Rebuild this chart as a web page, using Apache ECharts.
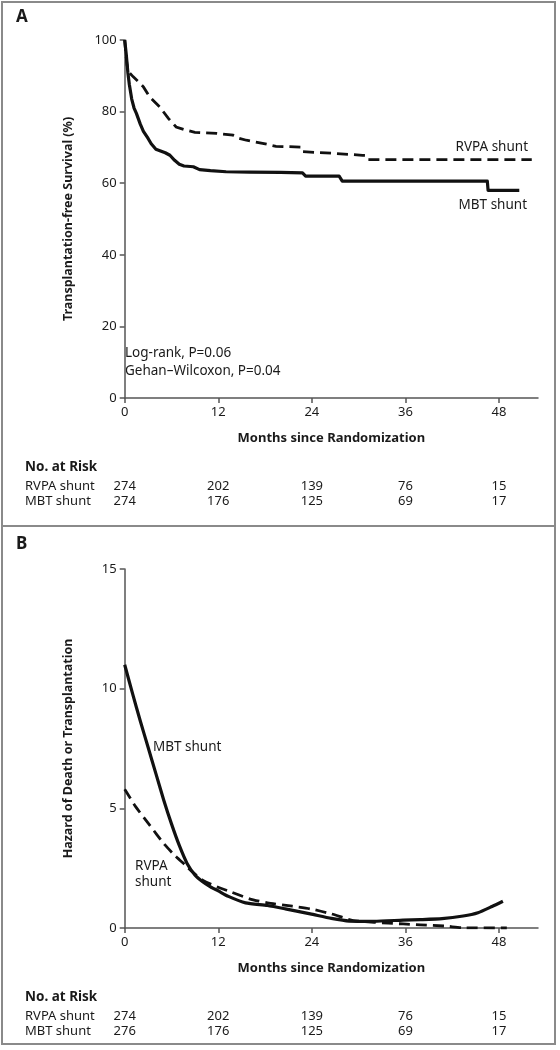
<!DOCTYPE html>
<html><head><meta charset="utf-8">
<script src="https://cdn.jsdelivr.net/npm/echarts@6/dist/echarts.min.js"></script>
<style>html,body{margin:0;padding:0;background:#fff}#c{width:560px;height:1050px}</style>
</head><body><div id="c"></div>
<script>
// ---------- data ----------
const monthTicks = [0, 12, 24, 36, 48];
const yTicksA = [0, 20, 40, 60, 80, 100];
const yTicksB = [0, 5, 10, 15];

// Panel A: Kaplan-Meier transplantation-free survival (%), [month, value]
const kmRVPA = [[0,100],[0.15,96],[0.3,93],[0.5,91.1],[1.1,89.7],[1.8,88.3],[2.4,86.9],[3.2,84.1],[4.5,81.3],[5.6,78.1],[6.6,75.7],[7.9,74.8],[9,74.2],[11.8,73.9],[13.9,73.4],[14.6,72.6],[15.6,72],[18.2,70.9],[19.4,70.3],[22.6,70.1],[22.8,68.8],[27.1,68.3],[30.5,67.8],[30.9,67.8],[31.2,66.6],[52.2,66.6]];
const kmMBT = [[0,100],[0.2,96],[0.4,91],[0.6,87.5],[0.9,83.5],[1.2,81],[1.5,79.5],[2,76.5],[2.4,74.5],[3,72.5],[3.4,71],[4,69.5],[4.6,69],[5.2,68.5],[5.8,67.8],[6.4,66.4],[7,65.3],[7.6,64.8],[8.8,64.6],[9.6,63.8],[11,63.5],[13,63.2],[16,63.1],[20,63],[22.8,62.9],[23.2,62],[27.5,62],[27.9,60.6],[46.5,60.6],[46.6,58],[50.6,58]];

// Panel B: hazard of death or transplantation, [month, value]
const hazRVPA = [[0,5.8],[1.4,5.07],[3.2,4.3],[5,3.53],[6.4,3.04],[7.8,2.62],[8.7,2.34],[10,2.0],[11.9,1.71],[13.7,1.5],[16,1.22],[18.3,1.05],[21.5,0.91],[23.8,0.8],[26.5,0.59],[29.3,0.31],[32,0.24],[33.8,0.2],[35.7,0.17],[37.9,0.13],[41.1,0.08],[43.4,0.01],[49,0.0]];
const hazMBT = [[0,11.0],[1,9.8],[2,8.65],[3,7.55],[4,6.45],[5,5.35],[6,4.35],[7,3.45],[8,2.7],[9,2.22],[10,1.93],[11,1.72],[12,1.55],[13.3,1.32],[15.5,1.05],[18.3,0.94],[20.6,0.8],[23.8,0.59],[26.5,0.4],[28.8,0.29],[32,0.28],[35.7,0.33],[37.9,0.35],[40.7,0.39],[43.4,0.5],[45.3,0.64],[47.1,0.9],[48.5,1.12]];

// Numbers at risk
const riskMonths = [0, 12, 24, 36, 48];
const riskGroups = ['RVPA shunt', 'MBT shunt'];
const riskA_RVPA = [274, 202, 139, 76, 15];
const riskA_MBT  = [274, 176, 125, 69, 17];
const riskB_RVPA = [274, 202, 139, 76, 15];
const riskB_MBT  = [276, 176, 125, 69, 17];

// ---------- chart ----------
const FONT = '"Noto Sans", sans-serif';
const TXT = '#1a1a1a';
const AXC = '#555';
const chart = echarts.init(document.getElementById('c'), null, {renderer: 'canvas'});

function xAxisCfg(gi) {
  return {
    type: 'value', gridIndex: gi, min: 0, max: 53, interval: 12,
    axisLine: {show: true, lineStyle: {color: AXC, width: 1.5}},
    axisTick: {show: true, length: 5, customValues: monthTicks, lineStyle: {color: AXC, width: 1.5}},
    axisLabel: {customValues: monthTicks, margin: 8, fontSize: 13, color: TXT, fontFamily: FONT},
    splitLine: {show: false},
    name: 'Months since Randomization', nameLocation: 'middle', nameGap: 34,
    nameTextStyle: {fontWeight: 'bold', fontSize: 13, color: TXT, fontFamily: FONT}
  };
}
function yAxisCfg(gi, max, interval, ticks, name) {
  return {
    type: 'value', gridIndex: gi, min: 0, max: max, interval: interval,
    axisLine: {show: true, lineStyle: {color: AXC, width: 1.5}},
    axisTick: {show: true, length: 5, lineStyle: {color: AXC, width: 1.5}},
    axisLabel: {margin: 8, fontSize: 13, color: TXT, fontFamily: FONT},
    splitLine: {show: false},
    name: name, nameLocation: 'middle', nameGap: 50, nameRotate: 90,
    nameTextStyle: {fontWeight: 'bold', fontSize: 12.5, color: TXT, fontFamily: FONT}
  };
}
const solid = {color: '#111', width: 3.2, type: 'solid', cap: 'butt', join: 'round'};
const dashed = {color: '#111', width: 2.8, type: [11, 6], cap: 'butt', join: 'miter'};

chart.setOption({
  animation: false,
  backgroundColor: '#fff',
  grid: [
    {left: 124.7, top: 40, width: 413.3, height: 358},
    {left: 124.7, top: 569, width: 413.3, height: 359}
  ],
  xAxis: [xAxisCfg(0), xAxisCfg(1)],
  yAxis: [
    yAxisCfg(0, 100, 20, yTicksA, 'Transplantation-free Survival (%)'),
    yAxisCfg(1, 15, 5, yTicksB, 'Hazard of Death or Transplantation')
  ],
  series: [
    {type: 'line', name: 'RVPA shunt', xAxisIndex: 0, yAxisIndex: 0, data: kmRVPA, showSymbol: false, lineStyle: dashed, z: 3},
    {type: 'line', name: 'MBT shunt', xAxisIndex: 0, yAxisIndex: 0, data: kmMBT, showSymbol: false, lineStyle: solid, z: 4},
    {type: 'line', name: 'RVPA shunt', xAxisIndex: 1, yAxisIndex: 1, data: hazRVPA, showSymbol: false, smooth: 0.2, lineStyle: dashed, z: 3},
    {type: 'line', name: 'MBT shunt', xAxisIndex: 1, yAxisIndex: 1, data: hazMBT, showSymbol: false, smooth: 0.2, lineStyle: solid, z: 4}
  ]
});

function txt(x, y, s, opt) {
  return {
    type: 'text', x: x, y: y, silent: true,
    style: Object.assign({text: s, fill: TXT, font: '13px ' + FONT, align: 'left', verticalAlign: 'middle'}, (opt || {}))
  };
}
const g = [];
// frames
g.push({type: 'rect', shape: {x: 2, y: 2, width: 553, height: 1042}, style: {fill: 'none', stroke: '#8a8a8a', lineWidth: 2}, silent: true});
g.push({type: 'line', shape: {x1: 2, y1: 526, x2: 555, y2: 526}, style: {stroke: '#8a8a8a', lineWidth: 2}, silent: true});
// panel letters
g.push(txt(16, 17, 'A', {font: 'bold 17px ' + FONT}));
g.push(txt(16, 544, 'B', {font: 'bold 17px ' + FONT}));
// annotations panel A
g.push(txt(528, 147, 'RVPA shunt', {align: 'right', font: '13.5px ' + FONT}));
g.push(txt(527, 205, 'MBT shunt', {align: 'right', font: '13.5px ' + FONT}));
g.push(txt(125, 353, 'Log-rank, P=0.06', {font: '13.5px ' + FONT}));
g.push(txt(125, 371, 'Gehan\u2013Wilcoxon, P=0.04', {font: '13.5px ' + FONT}));
// annotations panel B
g.push(txt(153, 747, 'MBT shunt', {font: '13.5px ' + FONT}));
g.push(txt(135, 866, 'RVPA', {font: '13.5px ' + FONT}));
g.push(txt(135, 882, 'shunt', {font: '13.5px ' + FONT}));
// at-risk tables
function riskTable(gi, yHead, yRow1, yRow2, r1, r2) {
  g.push(txt(25, yHead, 'No. at Risk', {font: 'bold 13.5px ' + FONT}));
  g.push(txt(25, yRow1, riskGroups[0]));
  g.push(txt(25, yRow2, riskGroups[1]));
  riskMonths.forEach(function (m, i) {
    const px = chart.convertToPixel({xAxisIndex: gi}, m);
    g.push(txt(px, yRow1, String(r1[i]), {align: 'center'}));
    g.push(txt(px, yRow2, String(r2[i]), {align: 'center'}));
  });
}
riskTable(0, 467, 486, 501, riskA_RVPA, riskA_MBT);
riskTable(1, 997, 1016, 1031, riskB_RVPA, riskB_MBT);
chart.setOption({graphic: g});
</script>
</body></html>
